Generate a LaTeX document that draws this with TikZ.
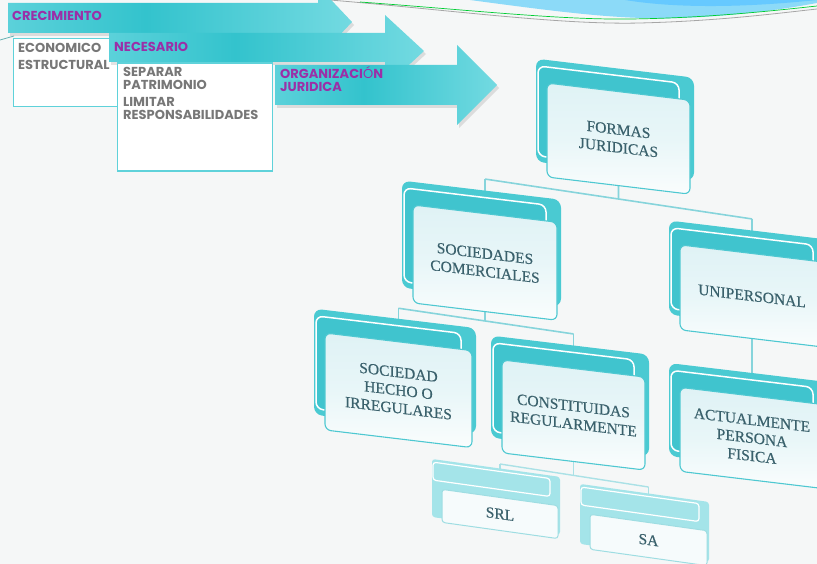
\documentclass[tikz,border=0pt]{standalone}
\usepackage{fontspec}
\newfontfamily\popf{Poppins}
\newfontfamily\cardf{Liberation Serif}[FakeBold=0.5]
\usetikzlibrary{calc,shadows}
\definecolor{bgc}{HTML}{F5F7F7}
\definecolor{teal1}{HTML}{4ACAD2}
\definecolor{teal2}{HTML}{40C4CE}
\definecolor{edgec}{HTML}{4EC8D1}
\definecolor{txtc}{HTML}{3A616C}
\definecolor{purp}{HTML}{9B2FA7}
\definecolor{graytxt}{HTML}{777777}
\definecolor{lineC}{HTML}{86D4DB}
\definecolor{boxedge}{HTML}{5FD2DA}
\definecolor{arrL}{HTML}{8EE3EA}
\definecolor{arrM}{HTML}{33C3CD}
\definecolor{arrR}{HTML}{A8EDF2}
\definecolor{pTop}{HTML}{DFF2F5}
\definecolor{pMid}{HTML}{E8F6F8}
\definecolor{pBot}{HTML}{FAFDFD}
\definecolor{qFill}{HTML}{F6FBFC}
\pgfdeclarehorizontalshading{arrsh}{100bp}{color(0bp)=(arrL); color(45bp)=(arrM); color(100bp)=(arrR)}
\pgfdeclarelayer{bgl}
\pgfdeclarelayer{conn}
\pgfsetlayers{bgl,conn,main}
\tikzset{
  arrowst/.style={shading=arrsh, drop shadow={opacity=0.22, shadow xshift=2pt, shadow yshift=-3pt}},
  lbl/.style={font=\popf\bfseries\fontsize{13}{14}\selectfont, inner sep=0, anchor=base west},
  plainbox/.style={draw=boxedge, line width=1.2, fill=white, anchor=north west, inner sep=0},
  frontp/.style={draw=edgec, line width=1.1, rounded corners=6, top color=pTop, bottom color=pBot, middle color=pMid,
     text=txtc, font=\cardf\fontsize{15.5}{18}\selectfont, align=center, transform shape, inner sep=2},
  frontq/.style={draw=lineC!80, line width=1, rounded corners=3, fill=qFill,
     text=txtc, font=\cardf\fontsize{15.5}{18}\selectfont, align=center, transform shape, inner sep=2},
  conline/.style={draw=lineC, line width=1.6},
  conlight/.style={draw=lineC!70, line width=1.4}
}
\newcommand{\bigcard}[6]{%
\begin{scope}[shift={(#2,#3)}, yslant=-0.12]
\fill[teal1, rounded corners=8] ({-#4/2-11},{-#5/2-23}) rectangle ({#4/2+4},{#5/2-14});
\draw[white, line width=1.5, fill=teal2, rounded corners=7] ({-#4/2-9},{-#5/2-16}) rectangle ({#4/2-11},{#5/2-20});
\node[frontp, minimum width=#4, minimum height=#5] (#1) at (0,0) {#6};
\end{scope}}
\newcommand{\smallcard}[6]{%
\begin{scope}[shift={(#2,#3)}, yslant=-0.14]
\fill[teal1!50, rounded corners=3] ({-#4/2-10},{-#5/2-29}) rectangle ({#4/2+2},{#5/2-4});
\draw[white, line width=1.2, rounded corners=3] ({-#4/2-9},{-#5/2-26}) rectangle ({#4/2-8},{-#5/2-8});
\node[frontq, minimum width=#4, minimum height=#5] (#1) at (0,0) {#6};
\end{scope}}
\begin{document}
\begin{tikzpicture}[x=1pt,y=-1pt]
\useasboundingbox (0,0) rectangle (817,564);
\clip (0,0) rectangle (817,564);
\begin{pgfonlayer}{bgl}
\fill[bgc] (0,0) rectangle (817,564);
\fill[cyan!45!white] (470,0) .. controls (560,12) and (620,20) .. (680,18) .. controls (740,16) and (790,8) .. (817,3) -- (817,0) -- cycle;
\fill[blue!35!cyan!60!white] (625,0) .. controls (680,9) and (750,7) .. (817,0) -- cycle;
\draw[gray!70, line width=0.8] (330,0) .. controls (450,10) and (560,25) .. (640,23) .. controls (720,21) and (780,13) .. (817,9);
\draw[green!60!teal, line width=0.7] (360,2) .. controls (470,10) and (560,20) .. (630,19) .. controls (710,18) and (780,10) .. (817,6);
\draw[teal!60, line width=0.8] (0,40) -- (14,36);
\end{pgfonlayer}
% arrows and boxes
\shade[arrowst] (8,3) -- (318,3) -- (318,-14) -- (352,22) -- (318,58) -- (318,33) -- (8,33) -- cycle;
\node[lbl, text=purp] (t1) at (12,21) {CRECIMIENTO};
\node[plainbox, minimum width=137, minimum height=68] (box1) at (13,38) {};
\node[lbl, text=graytxt] (t2) at (18,53) {ECONOMICO};
\node[lbl, text=graytxt] (t3) at (18,70) {ESTRUCTURAL};
\shade[arrowst] (109,33) -- (385,33) -- (385,15) -- (424,51) -- (385,87) -- (385,62) -- (109,62) -- cycle;
\node[lbl, text=purp] (t4) at (114,52) {NECESARIO};
\node[plainbox, minimum width=155, minimum height=108] (box2) at (117,62.5) {};
\node[lbl, text=graytxt] (t5) at (123,77) {SEPARAR};
\node[lbl, text=graytxt] (t6) at (123,90) {PATRIMONIO};
\node[lbl, text=graytxt] (t7) at (123,107) {LIMITAR};
\node[lbl, text=graytxt] (t8) at (123,120) {RESPONSABILIDADES};
\shade[arrowst] (275,65) -- (457,65) -- (457,45) -- (497,85) -- (457,125) -- (457,105) -- (275,105) -- cycle;
\node[lbl, text=purp] (t9) at (280,79) {ORGANIZACI{\mdseries Ó}N};
\node[lbl, text=purp] (t10) at (280,92) {JURIDICA};
% cards
\bigcard{FJ}{618.5}{138.6}{143}{94}{FORMAS\\JURIDICAS}
\bigcard{SC}{485}{262.6}{144}{98}{SOCIEDADES\\COMERCIALES}
\bigcard{UN}{752}{296}{144}{85}{UNIPERSONAL}
\bigcard{SH}{398.5}{390.3}{147}{97}{SOCIEDAD\\HECHO O\\IRREGULARES}
\bigcard{CR}{573.5}{415}{143}{93}{CONSTITUIDAS\\REGULARMENTE}
\bigcard{AC}{752}{438}{144}{84}{ACTUALMENTE\\PERSONA\\FISICA}
\smallcard{SRL}{500}{514}{116}{33}{SRL}
\smallcard{SA}{648.5}{540}{117}{35}{SA}
% connectors
\begin{pgfonlayer}{conn}
\coordinate (b1L) at ($(SC.north)+(0,-34)$);
\coordinate (b1R) at ($(UN.north)+(0,-34)$);
\coordinate (FJd) at ($(FJ.south)+(0,40)$);
\coordinate (b1M) at (intersection of FJ.south--FJd and b1L--b1R);
\draw[conline] (FJ.south) -- (b1M);
\draw[conline] (b1L) -- (b1R);
\draw[conline] (b1L) -- (SC.north);
\draw[conline] (b1R) -- (UN.north);
\coordinate (b2L) at ($(SH.north)+(0,-33)$);
\coordinate (b2R) at ($(CR.north)+(0,-34)$);
\coordinate (SCd) at ($(SC.south)+(0,40)$);
\coordinate (b2M) at (intersection of SC.south--SCd and b2L--b2R);
\draw[conline] (SC.south) -- (b2M);
\draw[conline] (b2L) -- (b2R);
\draw[conline] (b2L) -- (SH.north);
\draw[conline] (b2R) -- (CR.north);
\draw[conline] (UN.south) -- (AC.north);
\coordinate (b3L) at ($(SRL.north)+(0,-33)$);
\coordinate (b3R) at ($(SA.north)+(0,-35)$);
\coordinate (CRd) at ($(CR.south)+(0,40)$);
\coordinate (b3M) at (intersection of CR.south--CRd and b3L--b3R);
\draw[conlight] (CR.south) -- (b3M);
\draw[conlight] (b3L) -- (b3R);
\draw[conlight] (b3L) -- (SRL.north);
\draw[conlight] (b3R) -- (SA.north);
\end{pgfonlayer}
\end{tikzpicture}
\end{document}
